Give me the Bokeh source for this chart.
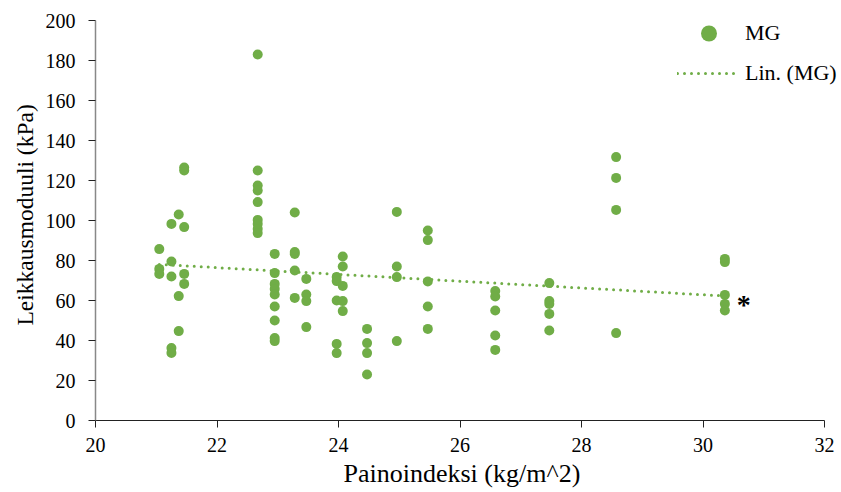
import numpy as np
from bokeh.plotting import figure
from bokeh.models import ColumnDataSource, Legend, LegendItem, Range1d, FixedTicker, Label, Title
from bokeh.embed import file_html
from bokeh.resources import INLINE

bmi = [21.05, 21.05, 21.05,
       21.25, 21.25, 21.25, 21.25, 21.25,
       21.37, 21.37, 21.37,
       21.46, 21.46, 21.46, 21.46, 21.46,
       22.67, 22.67, 22.67, 22.67, 22.67, 22.67, 22.67, 22.67, 22.67,
       22.95, 22.95, 22.95, 22.95, 22.95, 22.95, 22.95, 22.95, 22.95,
       23.28, 23.28, 23.28, 23.28, 23.28,
       23.47, 23.47, 23.47, 23.47,
       23.97, 23.97, 23.97, 23.97, 23.97,
       24.07, 24.07, 24.07, 24.07, 24.07,
       24.47, 24.47, 24.47, 24.47,
       24.96, 24.96, 24.96, 24.96,
       25.47, 25.47, 25.47, 25.47, 25.47,
       26.58, 26.58, 26.58, 26.58, 26.58,
       27.47, 27.47, 27.47, 27.47, 27.47,
       28.57, 28.57, 28.57, 28.57,
       30.36, 30.36, 30.36, 30.36, 30.36]
modulus = [85.7, 75.8, 73.3,
           98.3, 79.5, 72.0, 36.2, 33.8,
           103.0, 62.2, 44.7,
           126.5, 125.0, 96.7, 73.3, 68.3,
           183.0, 125.0, 117.5, 115.0, 109.2, 100.3, 98.3, 95.8, 93.7,
           83.3, 73.7, 68.3, 65.8, 63.0, 57.0, 50.0, 41.2, 39.7,
           104.0, 84.2, 83.3, 75.0, 61.3,
           70.8, 63.0, 59.7, 46.7,
           71.7, 69.7, 60.0, 38.3, 33.7,
           82.0, 77.0, 67.3, 59.7, 54.7,
           45.8, 38.7, 33.7, 23.0,
           104.3, 77.0, 71.7, 39.7,
           95.0, 90.2, 69.5, 57.0, 45.8,
           64.7, 62.0, 55.0, 42.5, 35.3,
           68.7, 59.7, 58.3, 53.3, 45.0,
           131.7, 121.3, 105.3, 43.7,
           80.8, 79.2, 62.8, 58.3, 55.0]

x_ticks = [20, 22, 24, 26, 28, 30, 32]
y_ticks = [0, 20, 40, 60, 80, 100, 120, 140, 160, 180, 200]
x_min, x_max = 20, 32
x_title = "Painoindeksi (kg/m^2)"
y_title = "Leikkausmoduuli (kPa)"
series_name = "MG"
trend_name = "Lin. (MG)"
star_pos = (30.67, 58)

GREEN = "#70AD47"
FONT = "Liberation Serif, Times New Roman, serif"

# frame extends slightly past x=32 so the legend text is not clipped; axis line bounded to [20, 32]
p = figure(width=841, height=492, output_backend="svg", toolbar_location=None,
           x_range=Range1d(x_min, x_max + 16 / 60.75), y_range=Range1d(0, 200),
           min_border_left=95, min_border_right=1, min_border_top=20, min_border_bottom=72)
p.outline_line_color = None
p.xgrid.visible = False
p.ygrid.visible = False

src = ColumnDataSource(dict(x=bmi, y=modulus))
pts = p.scatter("x", "y", source=src, size=10, color=GREEN, line_color=None)

xa = np.array(bmi)
ya = np.array(modulus)
slope, intercept = np.polyfit(xa, ya, 1)
tx = [xa.min(), xa.max()]
ty = [slope * t + intercept for t in tx]
ln = p.line(tx, ty, line_color=GREEN, line_width=3, line_dash="0 7", line_cap="round")

star = Label(x=star_pos[0], y=star_pos[1], text="*", text_font=FONT, text_font_size="28px",
             text_font_style="bold", text_color="black", text_align="center", text_baseline="middle")
p.add_layout(star)

p.xaxis.ticker = FixedTicker(ticks=x_ticks)
p.yaxis.ticker = FixedTicker(ticks=y_ticks)
p.xaxis.bounds = (x_min, x_max)
p.xaxis.minor_tick_line_color = None
p.yaxis.minor_tick_line_color = None
for ax in (p.xaxis, p.yaxis):
    ax.major_tick_out = 7
    ax.major_tick_in = 0
    ax.major_label_text_font = FONT
    ax.major_label_text_font_size = "20px"
    ax.major_label_text_color = "black"
p.xaxis.axis_line_color = "#222222"
p.xaxis.major_tick_line_color = "#222222"
p.yaxis.axis_line_color = "#888888"
p.yaxis.axis_line_width = 1.5
p.yaxis.major_tick_line_color = "#222222"
p.xaxis.major_label_standoff = 10
p.yaxis.major_label_standoff = 13

xt = Title(text=x_title, align="left", offset=248, standoff=4,
           text_font=FONT, text_font_size="26px", text_font_style="normal", text_color="black")
p.add_layout(xt, "below")
yt = Title(text=y_title, align="left", offset=95, standoff=10,
           text_font=FONT, text_font_size="23.5px", text_font_style="normal", text_color="black")
p.add_layout(yt, "left")

legend = Legend(items=[LegendItem(label=series_name, renderers=[pts]),
                       LegendItem(label=trend_name, renderers=[ln])],
                location=(582, 327), padding=0, margin=0, spacing=0,
                glyph_width=63, glyph_height=40, label_height=40, label_standoff=5,
                border_line_alpha=0, background_fill_alpha=0,
                label_text_font=FONT, label_text_font_size="22px", label_text_color="black")
p.add_layout(legend)

open("out.html", "w").write(file_html(p, INLINE))
